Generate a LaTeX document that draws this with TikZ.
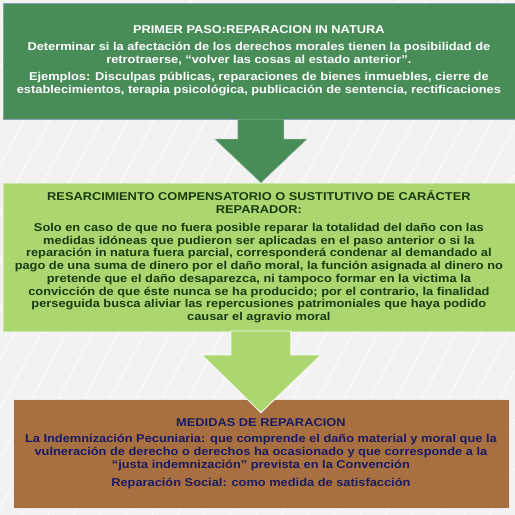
\documentclass[tikz,border=0pt]{standalone}
\usepackage{fontspec}
\setmainfont{Liberation Sans}[FakeStretch=1.13]
\usetikzlibrary{calc}
\definecolor{ColBack}{RGB}{242,242,242}
\definecolor{ColA}{RGB}{72,140,88}
\definecolor{ColB}{RGB}{172,214,112}
\definecolor{ColC}{RGB}{168,112,64}
\definecolor{TxtB}{RGB}{28,58,16}
\definecolor{TxtC}{RGB}{26,26,100}
\tikzstyle{Hatch}=[white,line width=0.7bp]
\tikzstyle{BoxPaso}=[rectangle,inner sep=0pt,align=center,font=\bfseries\fontsize{11.4}{12.8}\selectfont]
\tikzstyle{BoxA}=[BoxPaso,fill=ColA,draw=ColA!70!blue!60,text=white,minimum width=512bp,minimum height=116bp]
\tikzstyle{BoxB}=[BoxPaso,fill=ColB,draw=ColB!60!white,text=TxtB,minimum width=512bp,minimum height=148bp]
\tikzstyle{BoxC}=[BoxPaso,fill=ColC,draw=white!85!ColC,text=TxtC,minimum width=496bp,minimum height=109bp]
\tikzstyle{ArrowA}=[fill=ColA,draw=ColA!60!white,line width=0.5bp]
\tikzstyle{ArrowB}=[fill=ColB,draw=white,line width=0.8bp]

\begin{document}
\begin{tikzpicture}[x=1bp,y=-1bp]
        \fill[ColBack](0,0)rectangle(515,515);
        \begin{scope}
            \clip(0,0)rectangle(515,515);
            \foreach \i in {-290,-264,...,530}
                \draw[Hatch](\i,515)--(\i+274,0);
        \end{scope}
        \node[BoxA](pA)at(259,61){PRIMER PASO:REPARACION IN NATURA\\[4bp]
            Determinar  si la afectación  de los derechos morales  tienen  la posibilidad  de\\
            retrotraerse, ``volver las cosas al estado anterior''.\\[5bp]
            Ejemplos: Disculpas públicas, reparaciones  de bienes inmuebles,  cierre de\\
            establecimientos,  terapia psicológica,  publicación  de sentencia, rectificaciones};
        \node[BoxB](pB)at(259,257){RESARCIMIENTO COMPENSATORIO O SUSTITUTIVO DE CARÁCTER\\
            REPARADOR:\\[5bp]
            Solo en caso de que no fuera posible  reparar la totalidad  del daño con las\\
            medidas  idóneas  que pudieron  ser aplicadas  en el paso anterior  o si la\\
            reparación  in natura fuera parcial,  corresponderá  condenar al demandado al\\
            pago de una suma de dinero por el daño moral, la función asignada al dinero no\\
            pretende que el daño desaparezca,  ni tampoco formar  en la victima la\\
            convicción  de que éste nunca se ha producido;  por el contrario,  la finalidad\\
            perseguida  busca aliviar las repercusiones  patrimoniales  que haya podido\\
            causar el agravio moral};
        \node[BoxC](pC)at(261,453.5){MEDIDAS DE REPARACION\\[4bp]
            La Indemnización  Pecuniaria:  que comprende  el daño material  y moral  que la\\
            vulneración  de derecho  o derechos  ha ocasionado  y que corresponde  a la\\
            ``justa indemnización''   prevista  en la Convención\\[5bp]
            Reparación  Social:  como medida  de satisfacción};
        \draw[ArrowA]($(pA.south)+(-21,0)$)--++(0,20)--++(-23,0)--($(pB.north)+(2,0)$)
            --($(pA.south)+(48,20)$)--++(-23,0)--++(0,-20)--cycle;
        \draw[ArrowB]($(pB.south)+(-28,0)$)--++(0,24)--++(-29,0)--($(pC.north)+(0,14)$)
            --($(pB.south)+(62,24)$)--++(-30,0)--++(0,-24)--cycle;
    \end{tikzpicture}
\end{document}
